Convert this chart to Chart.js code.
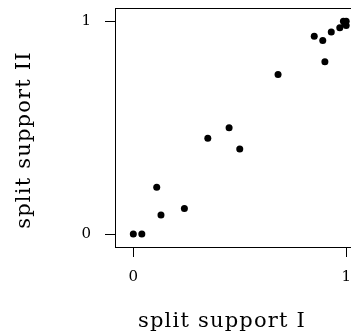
<!DOCTYPE html>
<html>
<head>
<meta charset="utf-8">
<script src="https://cdn.jsdelivr.net/npm/chart.js@4"></script>
<style>
  html, body { margin: 0; padding: 0; background: #fff; overflow: hidden; width: 351px; height: 336px; }
</style>
</head>
<body>
<canvas id="chart" width="355" height="336"></canvas>
<script>
// split support values
const supportI  = [0, 0.04, 0.11, 0.13, 0.24, 0.35, 0.45, 0.50, 0.68, 0.85, 0.89, 0.90, 0.93, 0.97, 0.987, 1.0, 1.0, 0.993];
const supportII = [0, 0,    0.22, 0.09, 0.12, 0.45, 0.50, 0.40, 0.75, 0.93, 0.91, 0.81, 0.95, 0.97, 1.0,   1.0, 0.98, 0.988];
const tickValues = [0, 1];
const xTitle = 'split support I';
const yTitle = 'split support II';

const points = supportI.map((x, i) => ({ x: x, y: supportII[i] }));

const serif = '"DejaVu Serif", "Liberation Serif", serif';

// axis titles and top edge of the box
const frame = {
    id: 'frame',
    afterDraw(chart) {
        const ctx = chart.ctx;
        const area = chart.chartArea;
        ctx.save();
        ctx.strokeStyle = '#000';
        ctx.lineWidth = 1;
        ctx.beginPath();
        ctx.moveTo(area.left, area.top + 0.5);
        ctx.lineTo(area.right, area.top + 0.5);
        ctx.stroke();

        ctx.fillStyle = '#000';
        ctx.font = '21px ' + serif;
        ctx.letterSpacing = '1.2px';
        ctx.textAlign = 'center';
        ctx.textBaseline = 'alphabetic';
        ctx.fillText(xTitle, 222, 327);

        ctx.translate(30, 140);
        ctx.rotate(-Math.PI / 2);
        ctx.fillText(yTitle, 0, 0);
        ctx.restore();
    }
};

function onlyTicks(scale) {
    scale.ticks = tickValues.map(v => ({ value: v }));
}

new Chart(document.getElementById('chart'), {
    type: 'scatter',
    data: {
        datasets: [{
            data: points,
            backgroundColor: '#000',
            borderWidth: 0,
            pointRadius: 3.5,
            pointHoverRadius: 3.5
        }]
    },
    options: {
        responsive: false,
        animation: false,
        events: [],
        layout: { padding: { top: 8, left: 0, right: 0, bottom: 0 } },
        plugins: {
            legend: { display: false },
            tooltip: { enabled: false }
        },
        scales: {
            x: {
                min: -0.086,
                max: 1.025,
                afterBuildTicks: onlyTicks,
                afterFit(scale) {
                    scale.height = 89;
                    scale.paddingLeft = 0;
                    scale.paddingRight = 0;
                },
                border: { display: true, color: '#000', width: 1 },
                grid: { drawOnChartArea: false, drawTicks: true, tickLength: 10, color: '#000' },
                ticks: {
                    color: '#000',
                    padding: 11,
                    maxRotation: 0,
                    font: { family: serif, size: 15 },
                    callback: v => String(v)
                }
            },
            y: {
                min: -0.061,
                max: 1.0625,
                afterBuildTicks: onlyTicks,
                afterFit(scale) {
                    scale.width = 115;
                    scale.paddingTop = 0;
                    scale.paddingBottom = 0;
                },
                border: { display: true, color: '#000', width: 1 },
                grid: { drawOnChartArea: false, drawTicks: true, tickLength: 10, color: '#000' },
                ticks: {
                    color: '#000',
                    padding: 14,
                    font: { family: serif, size: 15 },
                    callback: v => String(v)
                }
            }
        }
    },
    plugins: [frame]
});
</script>
</body>
</html>
